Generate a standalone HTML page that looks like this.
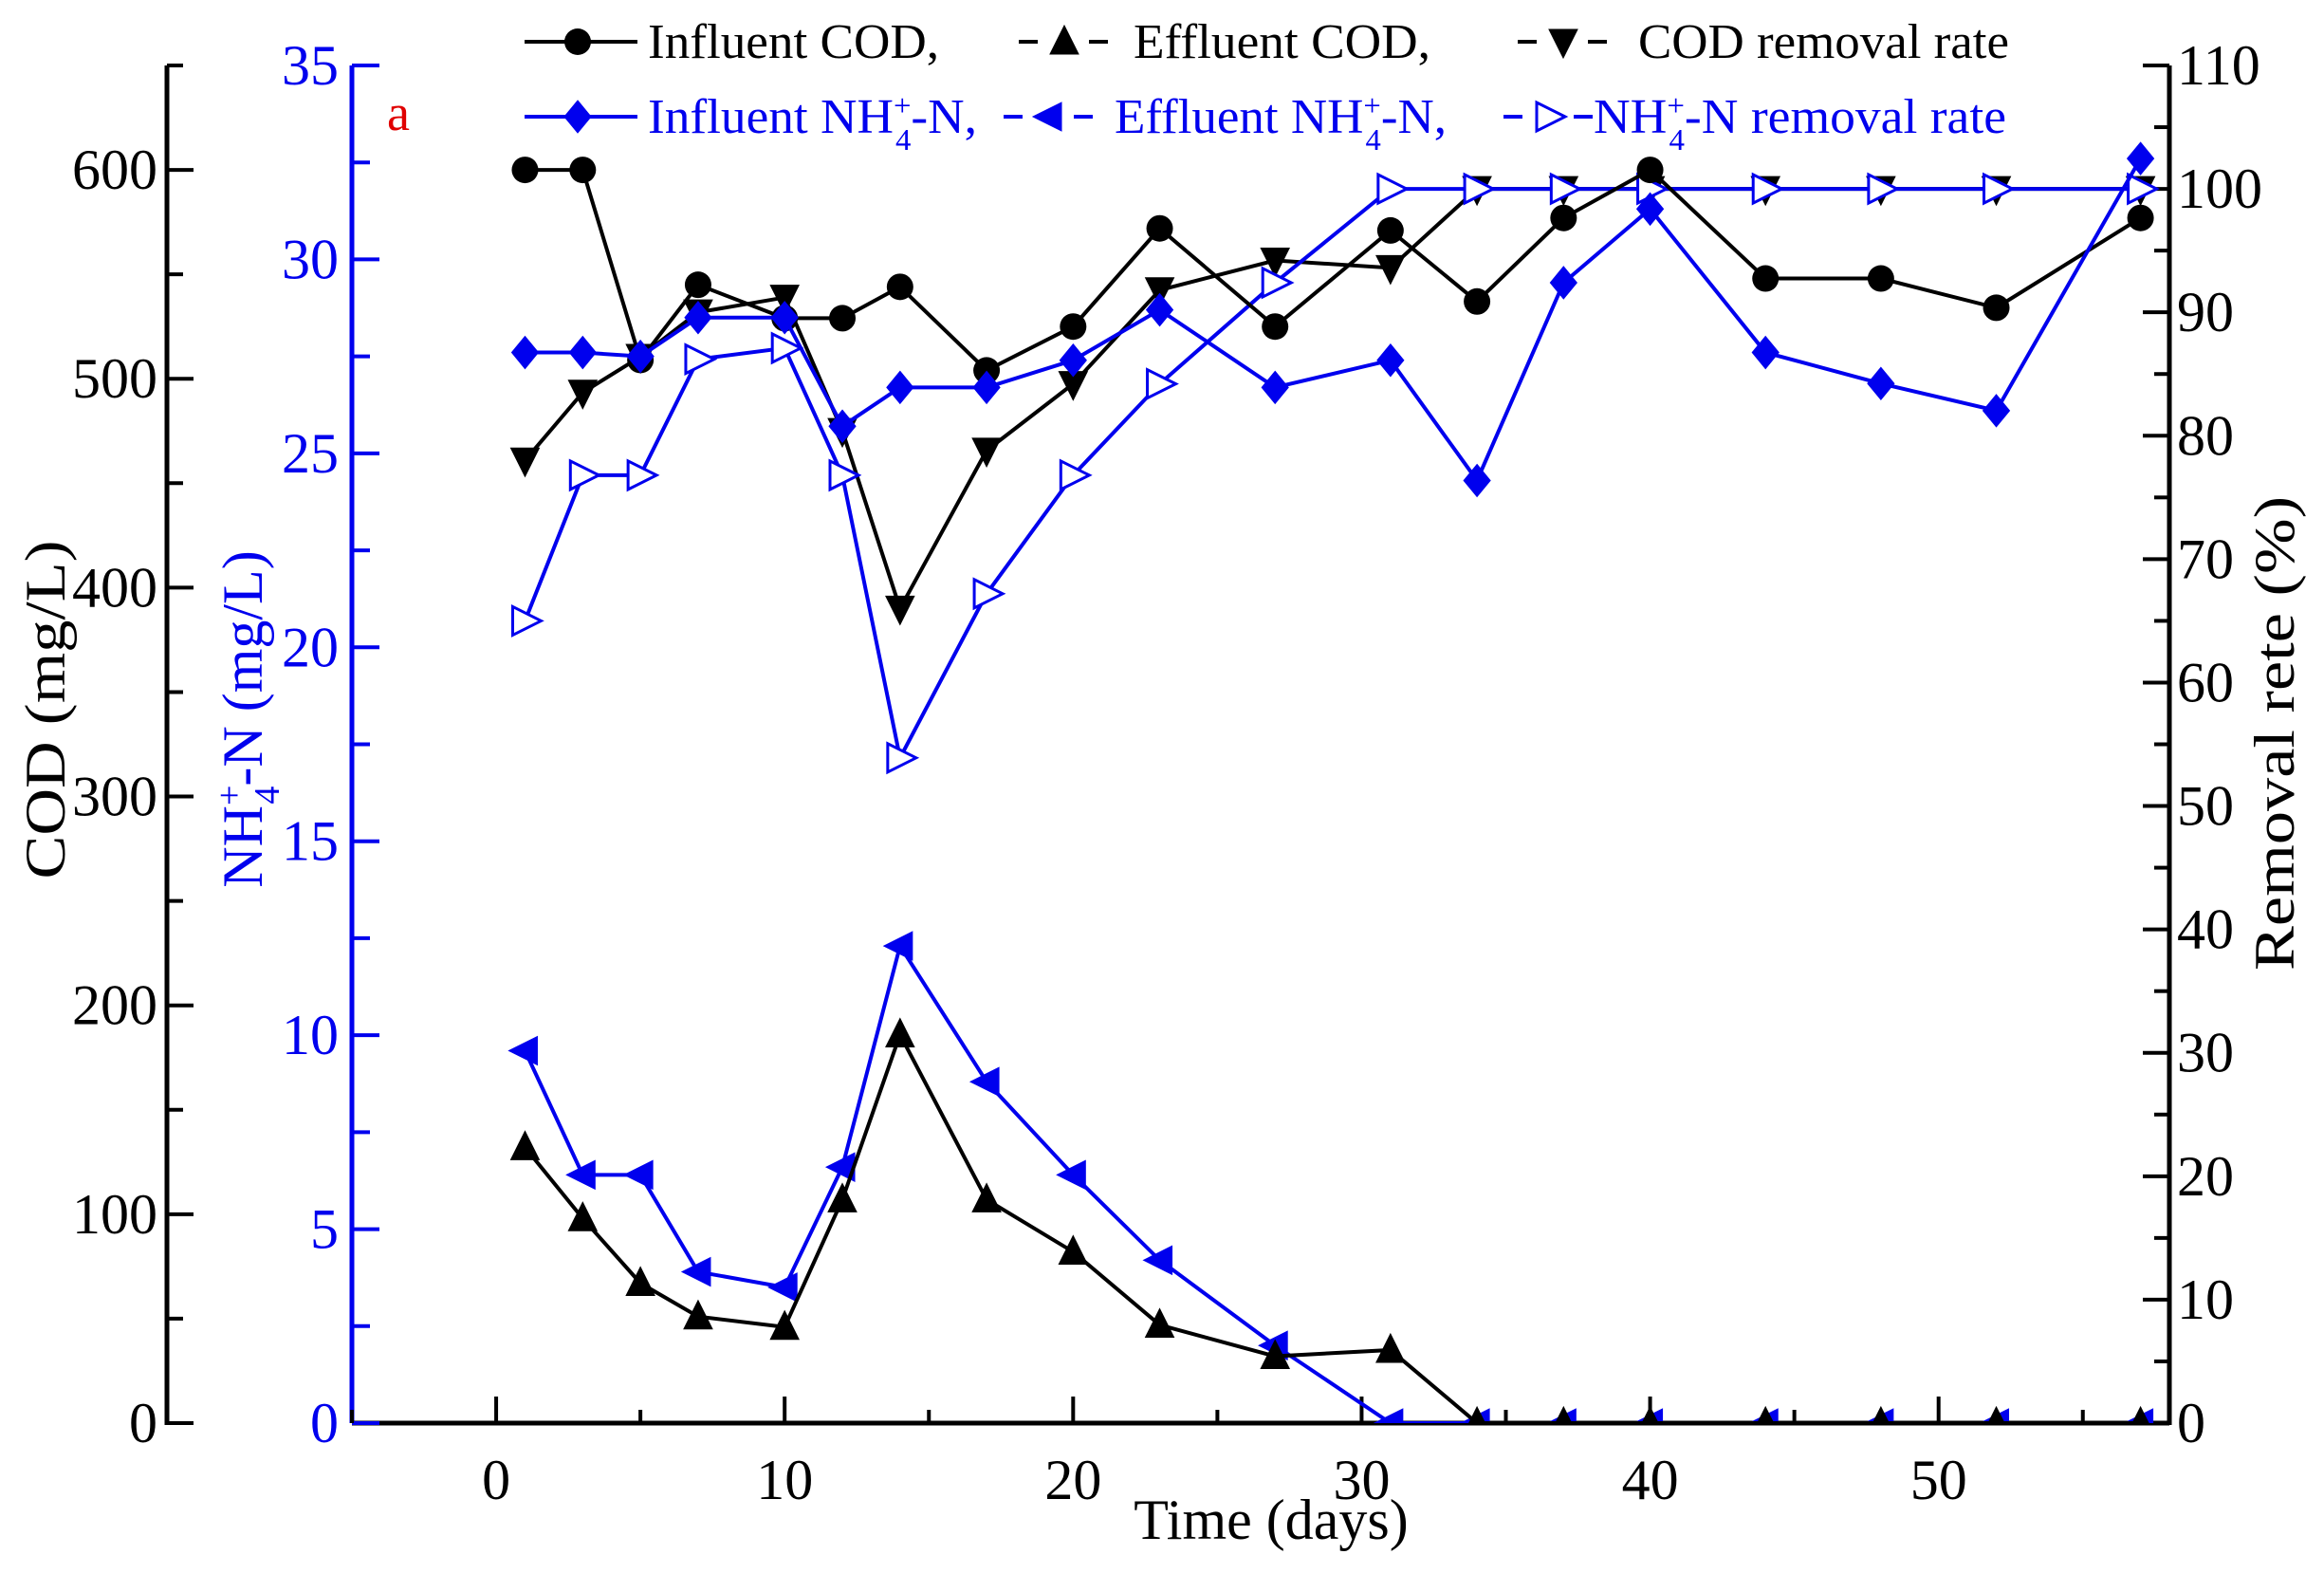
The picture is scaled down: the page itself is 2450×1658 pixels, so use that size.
<!DOCTYPE html>
<html><head><meta charset="utf-8"><style>
html,body{margin:0;padding:0;background:#fff}
svg{display:block;font-family:"Liberation Serif",serif}
</style></head><body>
<svg id="chart" width="2450" height="1658" viewBox="0 0 2450 1658" xmlns="http://www.w3.org/2000/svg">
<g id="axes"></g>
<g id="plot"></g>
<g id="legend"></g>
<text x="408" y="137" fill="#e00000" font-size="54">a</text>
<text x="1340" y="1622" text-anchor="middle" font-size="60">Time (days)</text>
<text transform="translate(68,748) rotate(-90)" text-anchor="middle" font-size="60" textLength="357" lengthAdjust="spacingAndGlyphs">COD (mg/L)</text>
<text transform="translate(276,758) rotate(-90)" text-anchor="middle" font-size="60" fill="#0000ee">NH<tspan font-size="38" dy="-22">+</tspan><tspan font-size="38" dx="-20" dy="40">4</tspan><tspan dy="-18">-N (mg/L)</tspan></text>
<text transform="translate(2418,773) rotate(-90)" text-anchor="middle" font-size="60" textLength="500" lengthAdjust="spacingAndGlyphs">Removal rete (%)</text>
</svg>
<script>
const days = [1,3,5,7,10,12,14,17,20,23,27,31,34,37,40,44,48,52,57];
const influentCOD = [600,600,509,545,529,529,544,504,525,572,525,571,537,577,600,548,548,534,577];
const effluentCOD = [132,98,67,51,46,107,186,107,82,47,32,35,0,0,0,0,0,0,0];
const codRemoval = [78,83.5,86.4,90,91.2,80.4,66,78.8,84.2,91.8,94.2,93.6,100,100,100,100,100,100,100];
const influentNH4 = [27.6,27.6,27.5,28.5,28.5,25.7,26.7,26.7,27.4,28.7,26.7,27.4,24.3,29.4,31.3,27.6,26.8,26.1,32.6];
const effluentNH4 = [9.6,6.4,6.4,3.9,3.5,6.6,12.3,8.8,6.4,4.2,2.0,0,0,0,0,0,0,0,0];
const nh4Removal = [65,76.8,76.8,86.2,87.1,76.8,53.9,67.2,76.8,84.2,92.4,100,100,100,100,100,100,100,100];
const xTicks = [0,10,20,30,40,50];
const codTicks = [0,100,200,300,400,500,600];
const nh4Ticks = [0,5,10,15,20,25,30,35];
const remTicks = [0,10,20,30,40,50,60,70,80,90,100,110];

const NS="http://www.w3.org/2000/svg";
const L=371,R=2287,T=69,B=1500;
const xs=d=>L+(d+5)/63*(R-L);
const yCOD=v=>B-v/650*(B-T);
const yNH=v=>B-v/35*(B-T);
const yRem=v=>B-v/110*(B-T);
function mk(tag,attrs,parent){const e=document.createElementNS(NS,tag);for(const k in attrs)e.setAttribute(k,attrs[k]);parent.appendChild(e);return e;}
const axes=document.getElementById('axes'),plot=document.getElementById('plot'),legend=document.getElementById('legend');
const BLUE="#0000ee";

let e;
e=mk('line',{x1:176,y1:T,x2:176,y2:B+2,stroke:'#000','stroke-width':5},axes);


e=mk('line',{x1:L,y1:T,x2:L,y2:B,stroke:BLUE,'stroke-width':5},axes);


e=mk('line',{x1:L,y1:B,x2:R,y2:B,stroke:'#000','stroke-width':5},axes);


e=mk('line',{x1:R,y1:T,x2:R,y2:B+2,stroke:'#000','stroke-width':5},axes);



for(let v=0;v<=650;v+=50){const y=yCOD(v);const maj=v%100===0;
 mk('line',{x1:176,y1:y,x2:maj?204:193,y2:y,stroke:'#000','stroke-width':4},axes);}
codTicks.forEach(v=>{const t=mk('text',{x:166,y:yCOD(v)+20,'text-anchor':'end','font-size':60},axes);t.textContent=v;
 
 });
for(let v=0;v<=35;v+=2.5){const y=yNH(v);const maj=v%5===0;
 mk('line',{x1:L,y1:y,x2:maj?400:390,y2:y,stroke:BLUE,'stroke-width':4},axes);}
nh4Ticks.forEach(v=>{const t=mk('text',{x:357,y:yNH(v)+20,'text-anchor':'end','font-size':60,fill:BLUE},axes);t.textContent=v;
 
 });
for(let v=0;v<=110;v+=5){const y=yRem(v);const maj=v%10===0;
 mk('line',{x1:R,y1:y,x2:maj?R-28:R-16,y2:y,stroke:'#000','stroke-width':4},axes);}
remTicks.forEach(v=>{const t=mk('text',{x:R+8,y:yRem(v)+20,'font-size':60},axes);t.textContent=v;
 
 });
for(let d=-5;d<=55;d+=5){const x=xs(d);const maj=d%10===0;
 mk('line',{x1:x,y1:B,x2:x,y2:maj?B-28:B-14,stroke:'#000','stroke-width':4},axes);}
xTicks.forEach(d=>{const t=mk('text',{x:xs(d),y:1580,'text-anchor':'middle','font-size':60},axes);t.textContent=d;
 
 });

const defs=mk('defs',{},plot);
const cp=mk('clipPath',{id:'clip'},defs);
mk('rect',{x:L,y:0,width:R-L,height:B},cp);
const area=mk('g',{'clip-path':'url(#clip)'},plot);

function marker(shape,x,y,col,parent){
 const s=15;
 if(shape==='circle')return mk('circle',{cx:x,cy:y,r:14,fill:col},parent);
 let pts;
 if(shape==='up')pts=[[x,y-s-2],[x-s,y+s-2],[x+s,y+s-2]];
 if(shape==='down')pts=[[x,y+s+2],[x-s,y-s+2],[x+s,y-s+2]];
 if(shape==='diamond')pts=[[x,y-17],[x+14,y],[x,y+17],[x-14,y]];
 if(shape==='left')pts=[[x-s-2,y],[x+s-2,y-s],[x+s-2,y+s]];
 if(shape==='right')pts=[[x+s+2,y],[x-s+2,y-s],[x-s+2,y+s]];
 const open=shape==='right';
 return mk('polygon',{points:pts.map(p=>p.join(',')).join(' '),fill:open?'#fff':col,stroke:col,'stroke-width':open?3:1},parent);
}
function series(name,vals,yf,col,shape){
 const g=mk('g',{},area);
 
 
 const pts=days.map((d,i)=>[xs(d),yf(vals[i])]);
 const pl=mk('polyline',{points:pts.map(p=>p.join(',')).join(' '),fill:'none',stroke:col,'stroke-width':4},g);
 
 
 pts.forEach(p=>{const m=marker(shape,p[0],p[1],col,g);
  
  });
}
series('effluent-nh4-series',effluentNH4,yNH,BLUE,'left');
series('effluent-cod-series',effluentCOD,yCOD,'#000','up');
series('cod-removal-series',codRemoval,yRem,'#000','down');
series('nh4-removal-series',nh4Removal,yRem,BLUE,'right');
series('influent-cod-series',influentCOD,yCOD,'#000','circle');
series('influent-nh4-series',influentNH4,yNH,BLUE,'diamond');

function legendEntry(name,x1,x2,mx,y,col,shape,dashed,tx,tw,label){
 const g=mk('g',{},legend);
 
 
 if(dashed){
  mk('line',{x1:mx-48,y1:y,x2:mx-28,y2:y,stroke:col,'stroke-width':4},g);
  mk('line',{x1:mx+26,y1:y,x2:mx+46,y2:y,stroke:col,'stroke-width':4},g);
 } else mk('line',{x1:x1,y1:y,x2:x2,y2:y,stroke:col,'stroke-width':4},g);
 marker(shape,mx,y,col,g);
 const t=mk('text',{x:tx,y:y+17,'font-size':52,fill:col,textLength:tw,lengthAdjust:'spacingAndGlyphs'},g);
 t.innerHTML=label;
}
legendEntry('legend-influent-cod',553,672,609,44,'#000','circle',false,683,307,'Influent COD,');
legendEntry('legend-effluent-cod',1063,1165,1122,44,'#000','up',true,1195,313,'Effluent COD,');
legendEntry('legend-cod-removal',1595,1700,1648,44,'#000','down',true,1727,391,'COD removal rate');
legendEntry('legend-influent-nh4',553,672,609,123,BLUE,'diamond',false,683,347,'Influent NH<tspan font-size="32" dy="-18">+</tspan><tspan font-size="32" dx="-16" dy="36">4</tspan><tspan dy="-18">-N,</tspan>');
legendEntry('legend-effluent-nh4',1030,1165,1106,123,BLUE,'left',true,1175,350,'Effluent NH<tspan font-size="32" dy="-18">+</tspan><tspan font-size="32" dx="-16" dy="36">4</tspan><tspan dy="-18">-N,</tspan>');
legendEntry('legend-nh4-removal',1565,1665,1633,123,BLUE,'right',true,1680,435,'NH<tspan font-size="32" dy="-18">+</tspan><tspan font-size="32" dx="-16" dy="36">4</tspan><tspan dy="-18">-N removal rate</tspan>');
</script>
</body></html>
